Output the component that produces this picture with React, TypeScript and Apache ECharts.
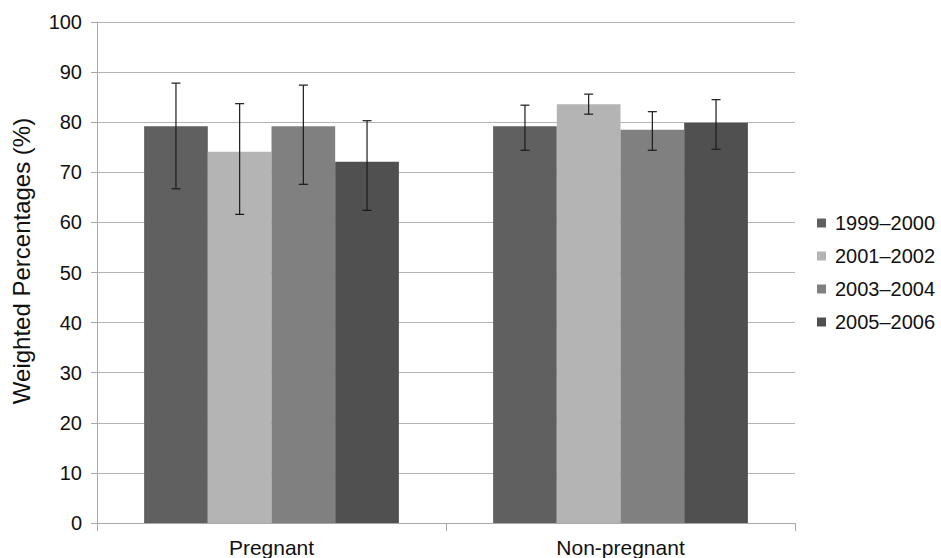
import React, { useEffect, useRef } from "react";
import * as echarts from "echarts";

const categories = ["Pregnant", "Non-pregnant"];
const seriesNames = ["1999–2000", "2001–2002", "2003–2004", "2005–2006"];
const colors = ["#606060", "#b4b4b4", "#808080", "#505050"];
const values = [
  [79.2, 79.2],
  [74.1, 83.6],
  [79.2, 78.5],
  [72.1, 79.9],
];
const lowers = [
  [66.7, 74.4],
  [61.6, 81.6],
  [67.6, 74.4],
  [62.4, 74.6],
];
const uppers = [
  [87.8, 83.4],
  [83.7, 85.6],
  [87.4, 82.1],
  [80.3, 84.5],
];
const yTicks = { min: 0, max: 100, interval: 10 };
const yTitle = "Weighted Percentages (%)";

const FONT = "'Liberation Sans', Arial, Helvetica, sans-serif";
const GAP = 0.27;

export default function App() {
  const ref = useRef<HTMLDivElement>(null);
  useEffect(() => {
    if (!ref.current) return;
    document.body.style.margin = "0";
    document.body.style.overflow = "hidden";
    const chart = echarts.init(ref.current, undefined, { renderer: "svg" });
    const n = seriesNames.length;
    const barSeries = seriesNames.map((name, i) => ({
      name,
      type: "bar",
      data: values[i],
      barCategoryGap: GAP * 100 + "%",
      barGap: "0%",
      itemStyle: { color: colors[i] },
      z: 2,
    }));
    const errSeries = seriesNames.map((name, i) => ({
      type: "custom",
      name: name + "-err",
      data: categories.map((_, c) => [c, lowers[i][c], uppers[i][c]]),
      z: 5,
      silent: true,
      renderItem: (params: any, api: any) => {
        const c = api.value(0);
        const lo = api.coord([c, api.value(1)]);
        const hi = api.coord([c, api.value(2)]);
        const catW = api.size([1, 0])[0];
        const bw = (catW * (1 - GAP)) / n;
        const x = lo[0] - (catW * (1 - GAP)) / 2 + bw * (i + 0.5);
        const cap = 4.5;
        const style = { stroke: "#1a1a1a", lineWidth: 1.2 };
        return {
          type: "group",
          children: [
            { type: "line", shape: { x1: x, y1: lo[1], x2: x, y2: hi[1] }, style },
            { type: "line", shape: { x1: x - cap, y1: hi[1], x2: x + cap, y2: hi[1] }, style },
            { type: "line", shape: { x1: x - cap, y1: lo[1], x2: x + cap, y2: lo[1] }, style },
          ],
        };
      },
    }));
    chart.setOption({
      animation: false,
      textStyle: { fontFamily: FONT },
      grid: { left: 97, right: 146, top: 22, bottom: 35, containLabel: false },
      legend: {
        orient: "vertical",
        left: 812,
        top: 208,
        data: seriesNames,
        itemWidth: 9,
        itemHeight: 9,
        itemGap: 13,
        icon: "rect",
        textStyle: { fontSize: 20, color: "#111", fontFamily: FONT, padding: [0, 0, 0, 4] },
      },
      graphic: [
        {
          type: "text",
          x: 21,
          y: 261,
          rotation: Math.PI / 2,
          style: {
            text: yTitle,
            fontSize: 24,
            fontFamily: FONT,
            fill: "#111",
            textAlign: "center",
            textVerticalAlign: "middle",
          },
        },
      ],
      xAxis: {
        type: "category",
        data: categories,
        axisLine: { lineStyle: { color: "#a8a8a8" } },
        axisTick: { show: true, length: 8, lineStyle: { color: "#a8a8a8" } },
        axisLabel: { fontSize: 21, color: "#111", margin: 14, fontFamily: FONT },
      },
      yAxis: {
        type: "value",
        min: yTicks.min,
        max: yTicks.max,
        interval: yTicks.interval,
        axisLine: { show: true, lineStyle: { color: "#a8a8a8" } },
        axisTick: { show: true, length: 6, lineStyle: { color: "#a8a8a8" } },
        axisLabel: { fontSize: 20, color: "#111", margin: 15, fontFamily: FONT },
        splitLine: { lineStyle: { color: "#b4b4b4" } },
      },
      series: [...barSeries, ...errSeries],
    });
    return () => chart.dispose();
  }, []);
  return <div ref={ref} style={{ width: 941, height: 558 }} />;
}
